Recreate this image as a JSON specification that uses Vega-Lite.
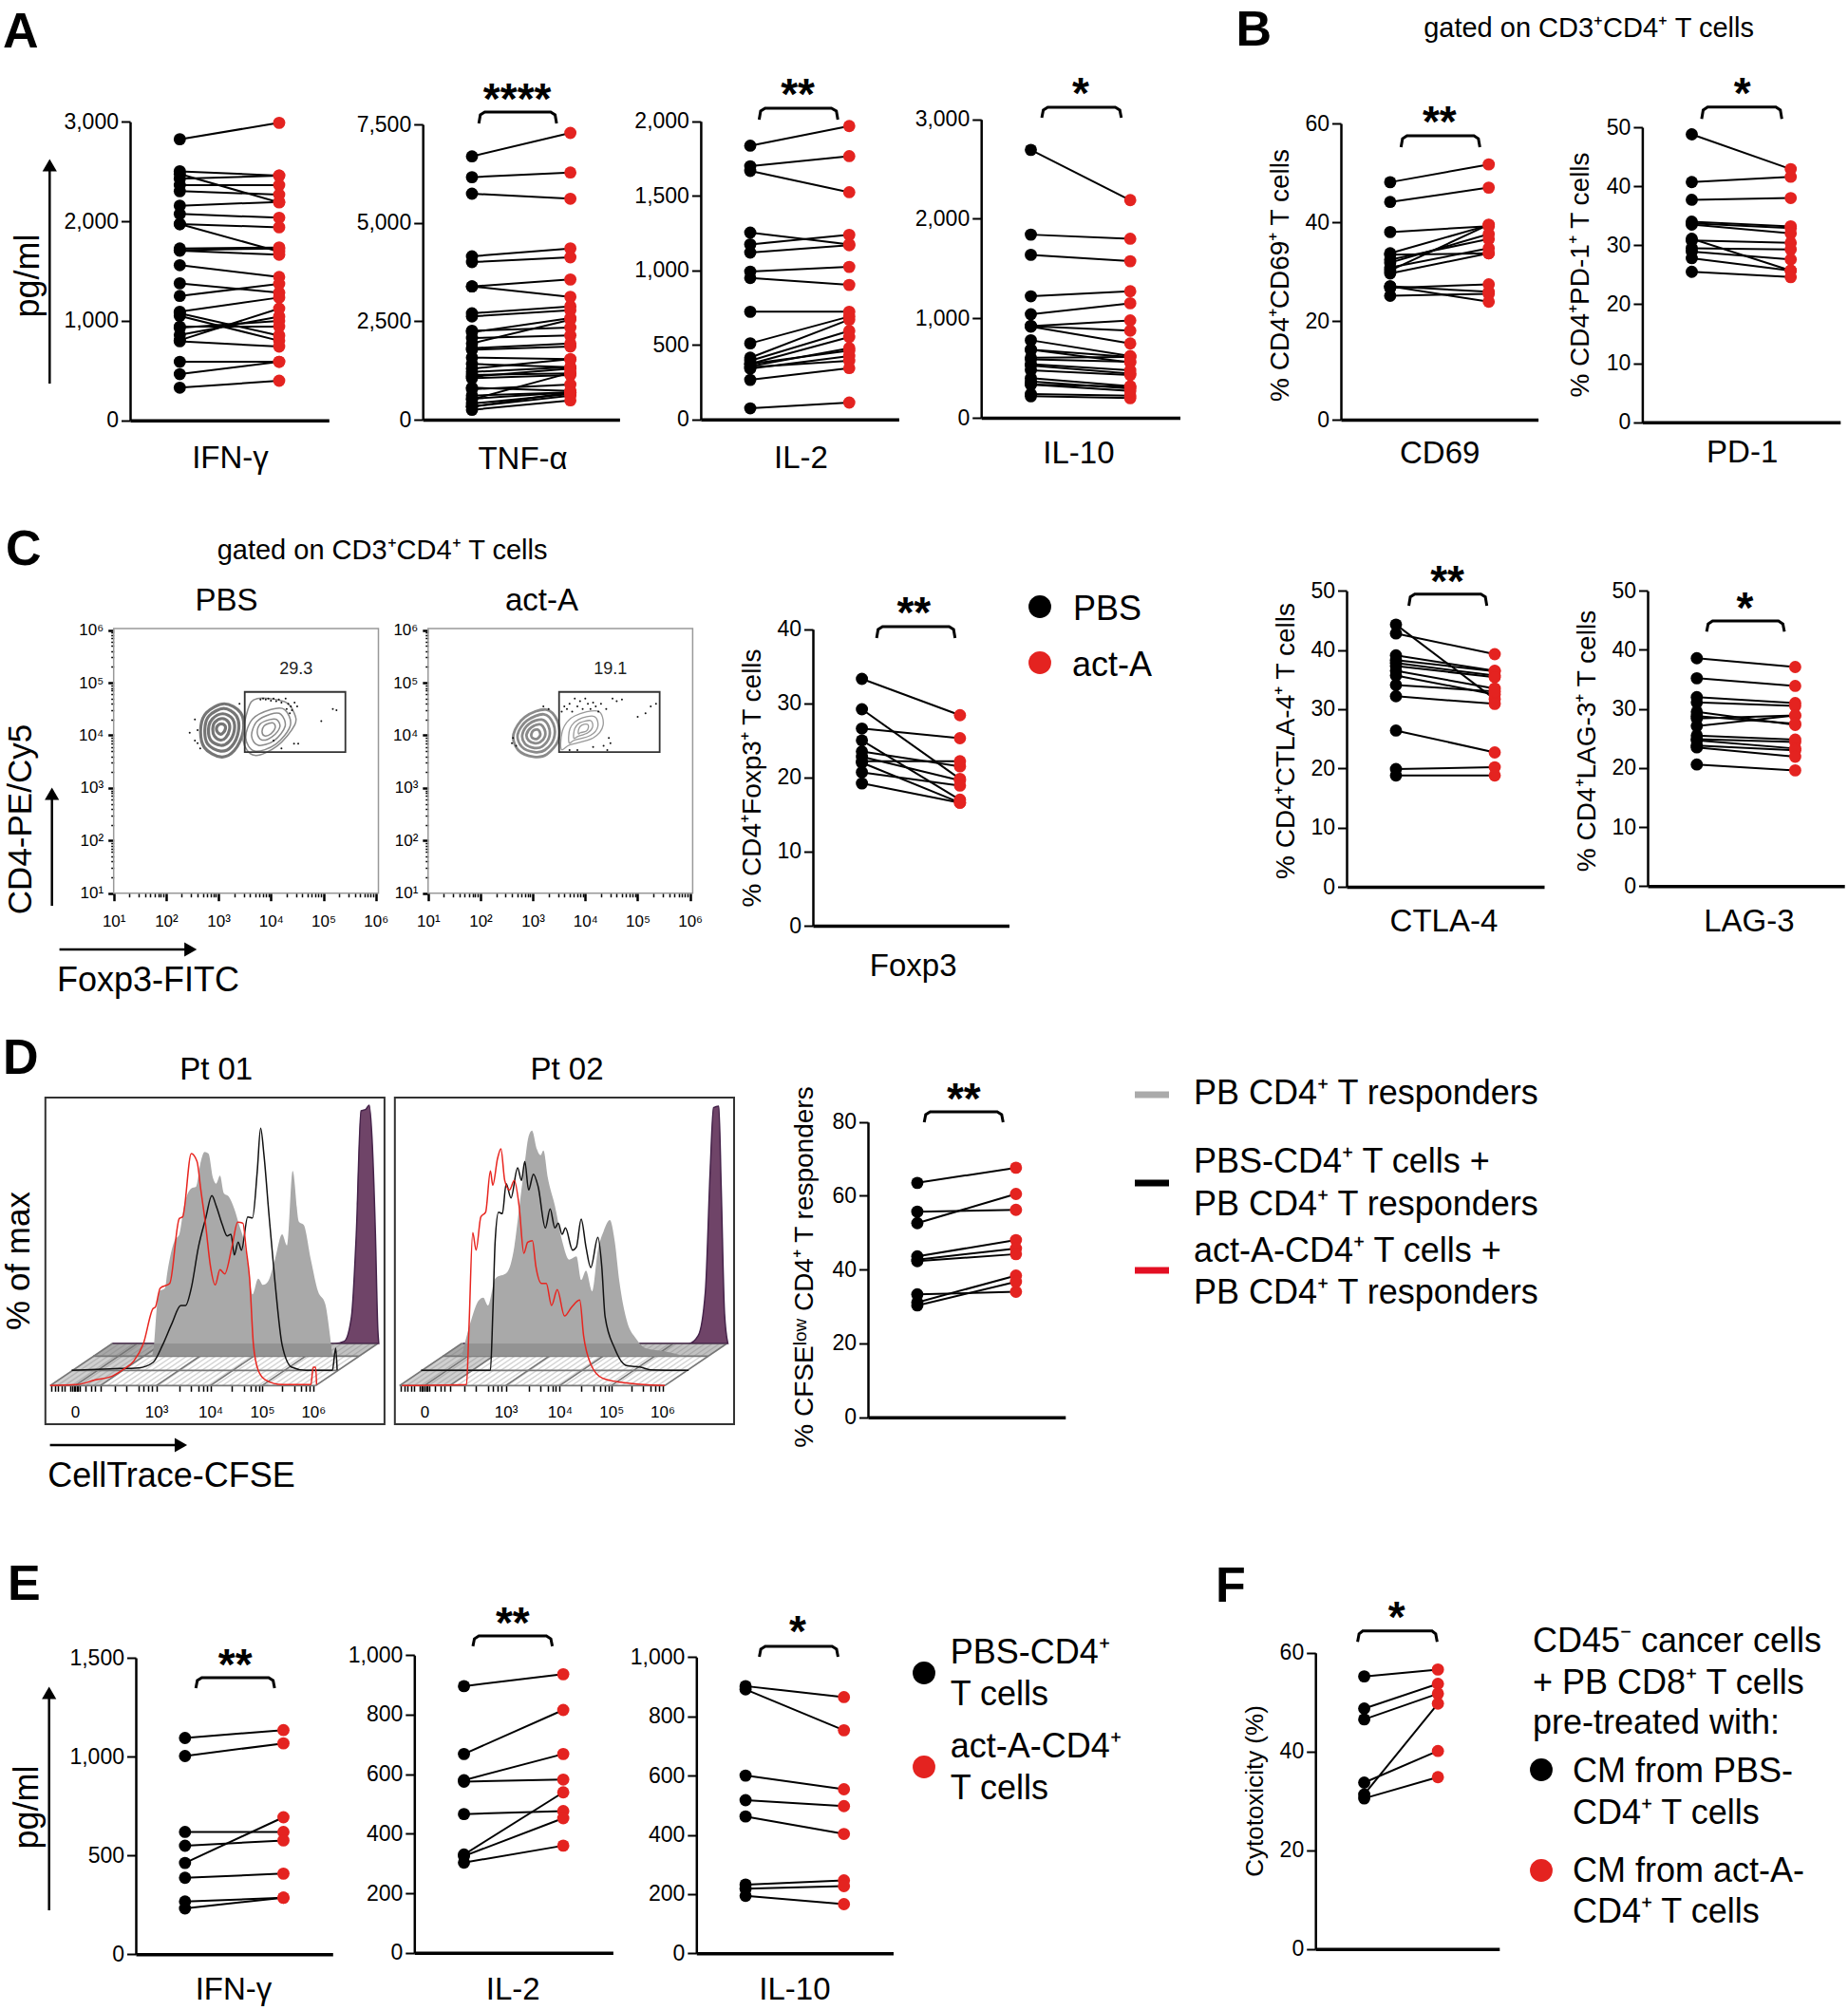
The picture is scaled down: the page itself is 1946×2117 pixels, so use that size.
{"$schema":"https://vega.github.io/schema/vega-lite/v6.json","width":1946,"height":2117,"padding":0,"autosize":"none","background":"white","config":{"view":{"stroke":null},"font":"Liberation Sans","axis":{"grid":false,"labelFont":"Liberation Sans","titleFont":"Liberation Sans","titleFontWeight":"normal","labelColor":"#000","titleColor":"#000","domainColor":"#000","tickColor":"#000","titleBaseline":"alphabetic","labelFontSize":23,"labelPadding":3,"tickSize":9.5,"tickWidth":2,"domainWidth":2.5,"labelOverlap":false,"labelFlush":false,"labelBound":false}},
"datasets":{
"A1":[{"PBS":2825,"actA":2990},{"PBS":2503,"actA":2459},{"PBS":2427,"actA":2459},{"PBS":2475,"actA":2190},{"PBS":2364,"actA":2364},{"PBS":2303,"actA":2268},{"PBS":2157,"actA":2195},{"PBS":2074,"actA":2036},{"PBS":1972,"actA":1940},{"PBS":1972,"actA":1696},{"PBS":1727,"actA":1737},{"PBS":1711,"actA":1727},{"PBS":1705,"actA":1664},{"PBS":1559,"actA":1441},{"PBS":1377,"actA":1282},{"PBS":1250,"actA":1371},{"PBS":1091,"actA":1234},{"PBS":1075,"actA":852},{"PBS":1050,"actA":800},{"PBS":941,"actA":941},{"PBS":930,"actA":1000},{"PBS":859,"actA":1043},{"PBS":805,"actA":1123},{"PBS":795,"actA":741},{"PBS":588,"actA":588},{"PBS":464,"actA":588},{"PBS":328,"actA":398}],
"A2":[{"PBS":6688,"actA":7283},{"PBS":6158,"actA":6278},{"PBS":5740,"actA":5611},{"PBS":4148,"actA":4349},{"PBS":4003,"actA":4124},{"PBS":3384,"actA":3561},{"PBS":3384,"actA":3119},{"PBS":2701,"actA":2878},{"PBS":2621,"actA":2781},{"PBS":2219,"actA":2580},{"PBS":1937,"actA":2540},{"PBS":2259,"actA":2339},{"PBS":2074,"actA":2138},{"PBS":1817,"actA":1937},{"PBS":1777,"actA":1857},{"PBS":1576,"actA":1535},{"PBS":1415,"actA":1334},{"PBS":1294,"actA":1535},{"PBS":1214,"actA":1334},{"PBS":1134,"actA":1174},{"PBS":1093,"actA":1294},{"PBS":1053,"actA":1134},{"PBS":812,"actA":732},{"PBS":772,"actA":892},{"PBS":611,"actA":691},{"PBS":531,"actA":691},{"PBS":514,"actA":1190},{"PBS":410,"actA":651},{"PBS":330,"actA":611},{"PBS":249,"actA":490},{"PBS":330,"actA":691}],
"A3":[{"PBS":1836,"actA":1968},{"PBS":1698,"actA":1766},{"PBS":1667,"actA":1524},{"PBS":1253,"actA":1174},{"PBS":1174,"actA":1238},{"PBS":1119,"actA":1168},{"PBS":991,"actA":1023},{"PBS":949,"actA":902},{"PBS":722,"actA":722},{"PBS":510,"actA":690},{"PBS":414,"actA":669},{"PBS":393,"actA":594},{"PBS":372,"actA":552},{"PBS":357,"actA":478},{"PBS":372,"actA":461},{"PBS":340,"actA":425},{"PBS":350,"actA":393},{"PBS":265,"actA":344},{"PBS":74,"actA":113}],
"A4":[{"PBS":2693,"actA":2188},{"PBS":1841,"actA":1800},{"PBS":1638,"actA":1574},{"PBS":1221,"actA":1272},{"PBS":1040,"actA":1151},{"PBS":922,"actA":979},{"PBS":922,"actA":875},{"PBS":916,"actA":747},{"PBS":779,"actA":620},{"PBS":684,"actA":610},{"PBS":604,"actA":610},{"PBS":588,"actA":563},{"PBS":525,"actA":445},{"PBS":477,"actA":429},{"PBS":398,"actA":318},{"PBS":366,"actA":293},{"PBS":334,"actA":312},{"PBS":238,"actA":223},{"PBS":216,"actA":197},{"PBS":334,"actA":270},{"PBS":684,"actA":556},{"PBS":540,"actA":477}],
"B1":[{"PBS":48.1,"actA":51.7},{"PBS":44.1,"actA":47},{"PBS":38,"actA":39.2},{"PBS":33.4,"actA":33.7},{"PBS":33.7,"actA":39.4},{"PBS":32.4,"actA":36.6},{"PBS":31.8,"actA":37.6},{"PBS":30.8,"actA":34.7},{"PBS":30.2,"actA":39.5},{"PBS":29.6,"actA":33.7},{"PBS":27,"actA":25.9},{"PBS":26.7,"actA":27.4},{"PBS":25.1,"actA":25.5},{"PBS":27,"actA":23.9}],
"B2":[{"PBS":48.8,"actA":42.9},{"PBS":40.7,"actA":41.6},{"PBS":37.7,"actA":38},{"PBS":34,"actA":33.2},{"PBS":33.7,"actA":32.9},{"PBS":33.5,"actA":32},{"PBS":30.8,"actA":30.4},{"PBS":31.1,"actA":25.7},{"PBS":29.5,"actA":29.3},{"PBS":28.9,"actA":27.6},{"PBS":27.8,"actA":25.7},{"PBS":25.5,"actA":24.6}],
"C1":[{"PBS":33.3,"actA":28.4},{"PBS":29.2,"actA":19.8},{"PBS":26.6,"actA":25.3},{"PBS":25,"actA":17},{"PBS":23.5,"actA":21.5},{"PBS":22.2,"actA":22.2},{"PBS":22.8,"actA":19.6},{"PBS":22,"actA":16.6},{"PBS":20.7,"actA":18.9},{"PBS":19.2,"actA":16.6}],
"B3":[{"PBS":44.3,"actA":31.7},{"PBS":42.8,"actA":39.3},{"PBS":39.1,"actA":36.5},{"PBS":38.3,"actA":36.4},{"PBS":37.8,"actA":35.7},{"PBS":37.3,"actA":35.4},{"PBS":36.5,"actA":33.5},{"PBS":35.7,"actA":32.5},{"PBS":34.1,"actA":33},{"PBS":32.2,"actA":30.9},{"PBS":26.4,"actA":22.7},{"PBS":19.9,"actA":20.2},{"PBS":18.8,"actA":18.8}],
"B4":[{"PBS":38.6,"actA":37.1},{"PBS":35.2,"actA":33.9},{"PBS":32,"actA":31},{"PBS":31.1,"actA":30.5},{"PBS":29.5,"actA":27.3},{"PBS":28.4,"actA":28.9},{"PBS":27.1,"actA":28.9},{"PBS":28.8,"actA":27.5},{"PBS":25.5,"actA":24.8},{"PBS":24.9,"actA":24.4},{"PBS":24.7,"actA":23.3},{"PBS":23.8,"actA":23},{"PBS":23.5,"actA":21.9},{"PBS":20.6,"actA":19.6}],
"D1":[{"PBS":63.5,"actA":67.6},{"PBS":52.6,"actA":60.5},{"PBS":55.7,"actA":56.2},{"PBS":43.6,"actA":48},{"PBS":42.7,"actA":45.7},{"PBS":42.3,"actA":44.2},{"PBS":33.3,"actA":34},{"PBS":31.1,"actA":38.4},{"PBS":30.3,"actA":36.7}],
"E1":[{"PBS":1094,"actA":1134},{"PBS":1003,"actA":1067},{"PBS":619,"actA":619},{"PBS":549,"actA":576},{"PBS":462,"actA":693},{"PBS":387,"actA":408},{"PBS":267,"actA":286},{"PBS":232,"actA":286}],
"E2":[{"PBS":896,"actA":936},{"PBS":668,"actA":816},{"PBS":580,"actA":668},{"PBS":575,"actA":582},{"PBS":466,"actA":476},{"PBS":330,"actA":539},{"PBS":325,"actA":452},{"PBS":303,"actA":360}],
"E3":[{"PBS":902,"actA":865},{"PBS":891,"actA":753},{"PBS":600,"actA":554},{"PBS":517,"actA":497},{"PBS":462,"actA":403},{"PBS":232,"actA":246},{"PBS":218,"actA":227},{"PBS":194,"actA":166}],
"F1":[{"PBS":55.2,"actA":56.6},{"PBS":48.7,"actA":53.7},{"PBS":46.5,"actA":51.7},{"PBS":33.7,"actA":40.1},{"PBS":31.3,"actA":49.7},{"PBS":30.5,"actA":34.8}],
"hatch":[{"f":105,"b":235},{"f":120,"b":250},{"f":135,"b":265},{"f":150,"b":280},{"f":165,"b":295},{"f":180,"b":310},{"f":195,"b":325},{"f":210,"b":340},{"f":225,"b":355},{"f":240,"b":370},{"f":255,"b":385},{"f":270,"b":400},{"f":285,"b":415},{"f":300,"b":430},{"f":315,"b":445},{"f":330,"b":460},{"f":345,"b":475},{"f":360,"b":490},{"f":375,"b":505},{"f":390,"b":520},{"f":405,"b":535},{"f":420,"b":550},{"f":435,"b":565},{"f":450,"b":580},{"f":465,"b":595},{"f":480,"b":610},{"f":495,"b":625},{"f":510,"b":640},{"f":525,"b":655},{"f":540,"b":670},{"f":555,"b":685},{"f":570,"b":700},{"f":585,"b":715},{"f":600,"b":730},{"f":615,"b":745},{"f":630,"b":760},{"f":645,"b":775},{"f":660,"b":790}],
"diag":[{"f":105,"b":235},{"f":157,"b":287},{"f":210,"b":340},{"f":327,"b":457},{"f":440,"b":570},{"f":548,"b":678},{"f":660,"b":790}],
"levels":[{"l":105,"r":660,"v":122},{"l":150,"r":705,"v":170},{"l":195,"r":750,"v":215},{"l":235,"r":790,"v":255}],
"shade":[{"x":105,"y":122,"y0":122},{"x":210,"y":229,"y0":122},{"x":235,"y":255,"y0":147},{"x":340,"y":255,"y0":255}],
"band":[{"x":195,"y":215,"y0":215},{"x":235,"y":255,"y0":215},{"x":750,"y":255,"y0":215},{"x":790,"y":255,"y0":255}]
},
"resolve":{"scale":{"x":"independent","y":"independent","color":"independent"},"axis":{"x":"independent","y":"independent"}},"layer":[
{"data":{"name":"A1"},"mark":{"type":"rule","color":"#000","strokeWidth":2},"encoding":{"x":{"datum":1,"type":"quantitative","scale":{"domain":[0.5,2.5],"range":[137,346.3]},"axis":{"orient":"bottom","offset":-1674.3,"ticks":false,"labels":false,"domainWidth":3.5,"title":"IFN-γ","titleFontSize":33,"titleX":242,"titleY":50}},"x2":{"datum":2},"y":{"field":"PBS","type":"quantitative","scale":{"domain":[0,3000],"range":[442.7,128.3]},"axis":{"orient":"left","offset":-137,"values":[0,1000,2000,3000],"format":",.0f","title":"pg/ml","titleFontSize":36,"titleX":-108,"titleY":290,"titleBaseline":"middle"}},"y2":{"field":"actA"}}},
{"data":{"name":"A1"},"layer":[
{"mark":{"type":"circle","size":165,"color":"#000","opacity":1},"encoding":{"x":{"datum":1,"type":"quantitative","scale":{"domain":[0.5,2.5],"range":[137,346.3]},"axis":null},"y":{"field":"PBS","type":"quantitative","scale":{"domain":[0,3000],"range":[442.7,128.3]},"axis":null}}},
{"mark":{"type":"circle","size":165,"color":"#e42320","opacity":1},"encoding":{"x":{"datum":2,"type":"quantitative","scale":{"domain":[0.5,2.5],"range":[137,346.3]},"axis":null},"y":{"field":"actA","type":"quantitative","scale":{"domain":[0,3000],"range":[442.7,128.3]},"axis":null}}}
]},
{"data":{"name":"A2"},"mark":{"type":"rule","color":"#000","strokeWidth":2},"encoding":{"x":{"datum":1,"type":"quantitative","scale":{"domain":[0.5,2.5],"range":[445.2,652.4]},"axis":{"orient":"bottom","offset":-1675,"ticks":false,"labels":false,"domainWidth":3.5,"title":"TNF-α","titleFontSize":33,"titleX":550,"titleY":51}},"x2":{"datum":2},"y":{"field":"PBS","type":"quantitative","scale":{"domain":[0,7500],"range":[442,131]},"axis":{"orient":"left","offset":-445.2,"values":[0,2500,5000,7500],"format":",.0f","title":null}},"y2":{"field":"actA"}}},
{"data":{"name":"A2"},"layer":[
{"mark":{"type":"circle","size":165,"color":"#000","opacity":1},"encoding":{"x":{"datum":1,"type":"quantitative","scale":{"domain":[0.5,2.5],"range":[445.2,652.4]},"axis":null},"y":{"field":"PBS","type":"quantitative","scale":{"domain":[0,7500],"range":[442,131]},"axis":null}}},
{"mark":{"type":"circle","size":165,"color":"#e42320","opacity":1},"encoding":{"x":{"datum":2,"type":"quantitative","scale":{"domain":[0.5,2.5],"range":[445.2,652.4]},"axis":null},"y":{"field":"actA","type":"quantitative","scale":{"domain":[0,7500],"range":[442,131]},"axis":null}}},
{"data":{"values":[{"x":1.07,"v":7524},{"x":1.085,"v":7741},{"x":1.13,"v":7814},{"x":1.8,"v":7814},{"x":1.845,"v":7741},{"x":1.86,"v":7524}]},"mark":{"type":"line","color":"#000","strokeWidth":3},"encoding":{"order":{"value":null},"x":{"field":"x","type":"quantitative","scale":{"domain":[0.5,2.5],"range":[445.2,652.4]},"axis":null},"y":{"field":"v","type":"quantitative","scale":{"domain":[0,7500],"range":[442,131]},"axis":null}}},
{"data":{"values":[{"x":1.46,"v":7777,"s":"****"}]},"mark":{"type":"text","fontSize":46,"fontWeight":"bold","font":"Liberation Sans","baseline":"alphabetic"},"encoding":{"text":{"field":"s"},"x":{"field":"x","type":"quantitative","scale":{"domain":[0.5,2.5],"range":[445.2,652.4]},"axis":null},"y":{"field":"v","type":"quantitative","scale":{"domain":[0,7500],"range":[442,131]},"axis":null}}}
]},
{"data":{"name":"A3"},"mark":{"type":"rule","color":"#000","strokeWidth":2},"encoding":{"x":{"datum":1,"type":"quantitative","scale":{"domain":[0.5,2.5],"range":[737.9,946.4]},"axis":{"orient":"bottom","offset":-1675.3,"ticks":false,"labels":false,"domainWidth":3.5,"title":"IL-2","titleFontSize":33,"titleX":843,"titleY":51}},"x2":{"datum":2},"y":{"field":"PBS","type":"quantitative","scale":{"domain":[0,2000],"range":[441.7,127.7]},"axis":{"orient":"left","offset":-737.9,"values":[0,500,1000,1500,2000],"format":",.0f","title":null}},"y2":{"field":"actA"}}},
{"data":{"name":"A3"},"layer":[
{"mark":{"type":"circle","size":165,"color":"#000","opacity":1},"encoding":{"x":{"datum":1,"type":"quantitative","scale":{"domain":[0.5,2.5],"range":[737.9,946.4]},"axis":null},"y":{"field":"PBS","type":"quantitative","scale":{"domain":[0,2000],"range":[441.7,127.7]},"axis":null}}},
{"mark":{"type":"circle","size":165,"color":"#e42320","opacity":1},"encoding":{"x":{"datum":2,"type":"quantitative","scale":{"domain":[0.5,2.5],"range":[737.9,946.4]},"axis":null},"y":{"field":"actA","type":"quantitative","scale":{"domain":[0,2000],"range":[441.7,127.7]},"axis":null}}},
{"data":{"values":[{"x":1.09,"v":2011},{"x":1.105,"v":2068},{"x":1.15,"v":2087},{"x":1.82,"v":2087},{"x":1.87,"v":2068},{"x":1.885,"v":2011}]},"mark":{"type":"line","color":"#000","strokeWidth":3},"encoding":{"order":{"value":null},"x":{"field":"x","type":"quantitative","scale":{"domain":[0.5,2.5],"range":[737.9,946.4]},"axis":null},"y":{"field":"v","type":"quantitative","scale":{"domain":[0,2000],"range":[441.7,127.7]},"axis":null}}},
{"data":{"values":[{"x":1.48,"v":2078,"s":"**"}]},"mark":{"type":"text","fontSize":46,"fontWeight":"bold","font":"Liberation Sans","baseline":"alphabetic"},"encoding":{"text":{"field":"s"},"x":{"field":"x","type":"quantitative","scale":{"domain":[0.5,2.5],"range":[737.9,946.4]},"axis":null},"y":{"field":"v","type":"quantitative","scale":{"domain":[0,2000],"range":[441.7,127.7]},"axis":null}}}
]},
{"data":{"name":"A4"},"mark":{"type":"rule","color":"#000","strokeWidth":2},"encoding":{"x":{"datum":1,"type":"quantitative","scale":{"domain":[0.5,2.5],"range":[1033.2,1242.5]},"axis":{"orient":"bottom","offset":-1677,"ticks":false,"labels":false,"domainWidth":3.5,"title":"IL-10","titleFontSize":33,"titleX":1135.4,"titleY":47}},"x2":{"datum":2},"y":{"field":"PBS","type":"quantitative","scale":{"domain":[0,3000],"range":[440,125.7]},"axis":{"orient":"left","offset":-1033.2,"values":[0,1000,2000,3000],"format":",.0f","title":null}},"y2":{"field":"actA"}}},
{"data":{"name":"A4"},"layer":[
{"mark":{"type":"circle","size":165,"color":"#000","opacity":1},"encoding":{"x":{"datum":1,"type":"quantitative","scale":{"domain":[0.5,2.5],"range":[1033.2,1242.5]},"axis":null},"y":{"field":"PBS","type":"quantitative","scale":{"domain":[0,3000],"range":[440,125.7]},"axis":null}}},
{"mark":{"type":"circle","size":165,"color":"#e42320","opacity":1},"encoding":{"x":{"datum":2,"type":"quantitative","scale":{"domain":[0.5,2.5],"range":[1033.2,1242.5]},"axis":null},"y":{"field":"actA","type":"quantitative","scale":{"domain":[0,3000],"range":[440,125.7]},"axis":null}}},
{"data":{"values":[{"x":1.11,"v":3016},{"x":1.125,"v":3093},{"x":1.17,"v":3121},{"x":1.85,"v":3121},{"x":1.895,"v":3093},{"x":1.91,"v":3016}]},"mark":{"type":"line","color":"#000","strokeWidth":3},"encoding":{"order":{"value":null},"x":{"field":"x","type":"quantitative","scale":{"domain":[0.5,2.5],"range":[1033.2,1242.5]},"axis":null},"y":{"field":"v","type":"quantitative","scale":{"domain":[0,3000],"range":[440,125.7]},"axis":null}}},
{"data":{"values":[{"x":1.5,"v":3116,"s":"*"}]},"mark":{"type":"text","fontSize":46,"fontWeight":"bold","font":"Liberation Sans","baseline":"alphabetic"},"encoding":{"text":{"field":"s"},"x":{"field":"x","type":"quantitative","scale":{"domain":[0.5,2.5],"range":[1033.2,1242.5]},"axis":null},"y":{"field":"v","type":"quantitative","scale":{"domain":[0,3000],"range":[440,125.7]},"axis":null}}}
]},
{"data":{"name":"B1"},"mark":{"type":"rule","color":"#000","strokeWidth":2},"encoding":{"x":{"datum":1,"type":"quantitative","scale":{"domain":[0.5,2.5],"range":[1412,1619.6]},"axis":{"orient":"bottom","offset":-1675,"ticks":false,"labels":false,"domainWidth":3.5,"title":"CD69","titleFontSize":33,"titleX":1515.7,"titleY":45}},"x2":{"datum":2},"y":{"field":"PBS","type":"quantitative","scale":{"domain":[0,60],"range":[442,130]},"axis":{"orient":"left","offset":-1412,"values":[0,20,40,60],"title":"% CD4⁺CD69⁺ T cells","titleFontSize":28,"titleX":-63.6,"titleY":289.5,"titleBaseline":"middle"}},"y2":{"field":"actA"}}},
{"data":{"name":"B1"},"layer":[
{"mark":{"type":"circle","size":165,"color":"#000","opacity":1},"encoding":{"x":{"datum":1,"type":"quantitative","scale":{"domain":[0.5,2.5],"range":[1412,1619.6]},"axis":null},"y":{"field":"PBS","type":"quantitative","scale":{"domain":[0,60],"range":[442,130]},"axis":null}}},
{"mark":{"type":"circle","size":165,"color":"#e42320","opacity":1},"encoding":{"x":{"datum":2,"type":"quantitative","scale":{"domain":[0.5,2.5],"range":[1412,1619.6]},"axis":null},"y":{"field":"actA","type":"quantitative","scale":{"domain":[0,60],"range":[442,130]},"axis":null}}},
{"data":{"values":[{"x":1.11,"v":55.2},{"x":1.125,"v":56.9},{"x":1.17,"v":57.5},{"x":1.85,"v":57.5},{"x":1.895,"v":56.9},{"x":1.91,"v":55.2}]},"mark":{"type":"line","color":"#000","strokeWidth":3},"encoding":{"order":{"value":null},"x":{"field":"x","type":"quantitative","scale":{"domain":[0.5,2.5],"range":[1412,1619.6]},"axis":null},"y":{"field":"v","type":"quantitative","scale":{"domain":[0,60],"range":[442,130]},"axis":null}}},
{"data":{"values":[{"x":1.5,"v":57.3,"s":"**"}]},"mark":{"type":"text","fontSize":46,"fontWeight":"bold","font":"Liberation Sans","baseline":"alphabetic"},"encoding":{"text":{"field":"s"},"x":{"field":"x","type":"quantitative","scale":{"domain":[0.5,2.5],"range":[1412,1619.6]},"axis":null},"y":{"field":"v","type":"quantitative","scale":{"domain":[0,60],"range":[442,130]},"axis":null}}}
]},
{"data":{"name":"B2"},"mark":{"type":"rule","color":"#000","strokeWidth":2},"encoding":{"x":{"datum":1,"type":"quantitative","scale":{"domain":[0.5,2.5],"range":[1729.4,1937.8]},"axis":{"orient":"bottom","offset":-1672.3,"ticks":false,"labels":false,"domainWidth":3.5,"title":"PD-1","titleFontSize":33,"titleX":1834.2,"titleY":42}},"x2":{"datum":2},"y":{"field":"PBS","type":"quantitative","scale":{"domain":[0,50],"range":[444.7,134]},"axis":{"orient":"left","offset":-1729.4,"values":[0,10,20,30,40,50],"title":"% CD4⁺PD-1⁺ T cells","titleFontSize":28,"titleX":-65.4,"titleY":289,"titleBaseline":"middle"}},"y2":{"field":"actA"}}},
{"data":{"name":"B2"},"layer":[
{"mark":{"type":"circle","size":165,"color":"#000","opacity":1},"encoding":{"x":{"datum":1,"type":"quantitative","scale":{"domain":[0.5,2.5],"range":[1729.4,1937.8]},"axis":null},"y":{"field":"PBS","type":"quantitative","scale":{"domain":[0,50],"range":[444.7,134]},"axis":null}}},
{"mark":{"type":"circle","size":165,"color":"#e42320","opacity":1},"encoding":{"x":{"datum":2,"type":"quantitative","scale":{"domain":[0.5,2.5],"range":[1729.4,1937.8]},"axis":null},"y":{"field":"actA","type":"quantitative","scale":{"domain":[0,50],"range":[444.7,134]},"axis":null}}},
{"data":{"values":[{"x":1.1,"v":51.4},{"x":1.115,"v":52.9},{"x":1.16,"v":53.4},{"x":1.85,"v":53.4},{"x":1.895,"v":52.9},{"x":1.91,"v":51.4}]},"mark":{"type":"line","color":"#000","strokeWidth":3},"encoding":{"order":{"value":null},"x":{"field":"x","type":"quantitative","scale":{"domain":[0.5,2.5],"range":[1729.4,1937.8]},"axis":null},"y":{"field":"v","type":"quantitative","scale":{"domain":[0,50],"range":[444.7,134]},"axis":null}}},
{"data":{"values":[{"x":1.51,"v":53.2,"s":"*"}]},"mark":{"type":"text","fontSize":46,"fontWeight":"bold","font":"Liberation Sans","baseline":"alphabetic"},"encoding":{"text":{"field":"s"},"x":{"field":"x","type":"quantitative","scale":{"domain":[0.5,2.5],"range":[1729.4,1937.8]},"axis":null},"y":{"field":"v","type":"quantitative","scale":{"domain":[0,50],"range":[444.7,134]},"axis":null}}}
]},
{"data":{"name":"C1"},"mark":{"type":"rule","color":"#000","strokeWidth":2},"encoding":{"x":{"datum":1,"type":"quantitative","scale":{"domain":[0.5,2.5],"range":[856,1062.5]},"axis":{"orient":"bottom","offset":-1142,"ticks":false,"labels":false,"domainWidth":3.5,"title":"Foxp3","titleFontSize":33,"titleX":961.2,"titleY":52}},"x2":{"datum":2},"y":{"field":"PBS","type":"quantitative","scale":{"domain":[0,40],"range":[975,662.7]},"axis":{"orient":"left","offset":-856,"values":[0,10,20,30,40],"title":"% CD4⁺Foxp3⁺ T cells","titleFontSize":28,"titleX":-64,"titleY":819,"titleBaseline":"middle"}},"y2":{"field":"actA"}}},
{"data":{"name":"C1"},"layer":[
{"mark":{"type":"circle","size":165,"color":"#000","opacity":1},"encoding":{"x":{"datum":1,"type":"quantitative","scale":{"domain":[0.5,2.5],"range":[856,1062.5]},"axis":null},"y":{"field":"PBS","type":"quantitative","scale":{"domain":[0,40],"range":[975,662.7]},"axis":null}}},
{"mark":{"type":"circle","size":165,"color":"#e42320","opacity":1},"encoding":{"x":{"datum":2,"type":"quantitative","scale":{"domain":[0.5,2.5],"range":[856,1062.5]},"axis":null},"y":{"field":"actA","type":"quantitative","scale":{"domain":[0,40],"range":[975,662.7]},"axis":null}}},
{"data":{"values":[{"x":1.15,"v":38.8},{"x":1.165,"v":39.97},{"x":1.21,"v":40.35},{"x":1.89,"v":40.35},{"x":1.935,"v":39.97},{"x":1.95,"v":38.8}]},"mark":{"type":"line","color":"#000","strokeWidth":3},"encoding":{"order":{"value":null},"x":{"field":"x","type":"quantitative","scale":{"domain":[0.5,2.5],"range":[856,1062.5]},"axis":null},"y":{"field":"v","type":"quantitative","scale":{"domain":[0,40],"range":[975,662.7]},"axis":null}}},
{"data":{"values":[{"x":1.53,"v":40.23,"s":"**"}]},"mark":{"type":"text","fontSize":46,"fontWeight":"bold","font":"Liberation Sans","baseline":"alphabetic"},"encoding":{"text":{"field":"s"},"x":{"field":"x","type":"quantitative","scale":{"domain":[0.5,2.5],"range":[856,1062.5]},"axis":null},"y":{"field":"v","type":"quantitative","scale":{"domain":[0,40],"range":[975,662.7]},"axis":null}}}
]},
{"data":{"name":"B3"},"mark":{"type":"rule","color":"#000","strokeWidth":2},"encoding":{"x":{"datum":1,"type":"quantitative","scale":{"domain":[0.5,2.5],"range":[1418,1626]},"axis":{"orient":"bottom","offset":-1183,"ticks":false,"labels":false,"domainWidth":3.5,"title":"CTLA-4","titleFontSize":33,"titleX":1519.9,"titleY":46}},"x2":{"datum":2},"y":{"field":"PBS","type":"quantitative","scale":{"domain":[0,50],"range":[934,622.3]},"axis":{"orient":"left","offset":-1418,"values":[0,10,20,30,40,50],"title":"% CD4⁺CTLA-4⁺ T cells","titleFontSize":28,"titleX":-63.9,"titleY":780,"titleBaseline":"middle"}},"y2":{"field":"actA"}}},
{"data":{"name":"B3"},"layer":[
{"mark":{"type":"circle","size":165,"color":"#000","opacity":1},"encoding":{"x":{"datum":1,"type":"quantitative","scale":{"domain":[0.5,2.5],"range":[1418,1626]},"axis":null},"y":{"field":"PBS","type":"quantitative","scale":{"domain":[0,50],"range":[934,622.3]},"axis":null}}},
{"mark":{"type":"circle","size":165,"color":"#e42320","opacity":1},"encoding":{"x":{"datum":2,"type":"quantitative","scale":{"domain":[0.5,2.5],"range":[1418,1626]},"axis":null},"y":{"field":"actA","type":"quantitative","scale":{"domain":[0,50],"range":[934,622.3]},"axis":null}}},
{"data":{"values":[{"x":1.13,"v":47.5},{"x":1.145,"v":48.97},{"x":1.19,"v":49.45},{"x":1.86,"v":49.45},{"x":1.905,"v":48.97},{"x":1.92,"v":47.5}]},"mark":{"type":"line","color":"#000","strokeWidth":3},"encoding":{"order":{"value":null},"x":{"field":"x","type":"quantitative","scale":{"domain":[0.5,2.5],"range":[1418,1626]},"axis":null},"y":{"field":"v","type":"quantitative","scale":{"domain":[0,50],"range":[934,622.3]},"axis":null}}},
{"data":{"values":[{"x":1.52,"v":49.1,"s":"**"}]},"mark":{"type":"text","fontSize":46,"fontWeight":"bold","font":"Liberation Sans","baseline":"alphabetic"},"encoding":{"text":{"field":"s"},"x":{"field":"x","type":"quantitative","scale":{"domain":[0.5,2.5],"range":[1418,1626]},"axis":null},"y":{"field":"v","type":"quantitative","scale":{"domain":[0,50],"range":[934,622.3]},"axis":null}}}
]},
{"data":{"name":"B4"},"mark":{"type":"rule","color":"#000","strokeWidth":2},"encoding":{"x":{"datum":1,"type":"quantitative","scale":{"domain":[0.5,2.5],"range":[1735,1942.2]},"axis":{"orient":"bottom","offset":-1183.7,"ticks":false,"labels":false,"domainWidth":3.5,"title":"LAG-3","titleFontSize":33,"titleX":1841.4,"titleY":47}},"x2":{"datum":2},"y":{"field":"PBS","type":"quantitative","scale":{"domain":[0,50],"range":[933.3,622.3]},"axis":{"orient":"left","offset":-1735,"values":[0,10,20,30,40,50],"title":"% CD4⁺LAG-3⁺ T cells","titleFontSize":28,"titleX":-63.4,"titleY":780,"titleBaseline":"middle"}},"y2":{"field":"actA"}}},
{"data":{"name":"B4"},"layer":[
{"mark":{"type":"circle","size":165,"color":"#000","opacity":1},"encoding":{"x":{"datum":1,"type":"quantitative","scale":{"domain":[0.5,2.5],"range":[1735,1942.2]},"axis":null},"y":{"field":"PBS","type":"quantitative","scale":{"domain":[0,50],"range":[933.3,622.3]},"axis":null}}},
{"mark":{"type":"circle","size":165,"color":"#e42320","opacity":1},"encoding":{"x":{"datum":2,"type":"quantitative","scale":{"domain":[0.5,2.5],"range":[1735,1942.2]},"axis":null},"y":{"field":"actA","type":"quantitative","scale":{"domain":[0,50],"range":[933.3,622.3]},"axis":null}}},
{"data":{"values":[{"x":1.1,"v":43.1},{"x":1.115,"v":44.4},{"x":1.16,"v":44.9},{"x":1.83,"v":44.9},{"x":1.875,"v":44.4},{"x":1.89,"v":43.1}]},"mark":{"type":"line","color":"#000","strokeWidth":3},"encoding":{"order":{"value":null},"x":{"field":"x","type":"quantitative","scale":{"domain":[0.5,2.5],"range":[1735,1942.2]},"axis":null},"y":{"field":"v","type":"quantitative","scale":{"domain":[0,50],"range":[933.3,622.3]},"axis":null}}},
{"data":{"values":[{"x":1.49,"v":44.6,"s":"*"}]},"mark":{"type":"text","fontSize":46,"fontWeight":"bold","font":"Liberation Sans","baseline":"alphabetic"},"encoding":{"text":{"field":"s"},"x":{"field":"x","type":"quantitative","scale":{"domain":[0.5,2.5],"range":[1735,1942.2]},"axis":null},"y":{"field":"v","type":"quantitative","scale":{"domain":[0,50],"range":[933.3,622.3]},"axis":null}}}
]},
{"data":{"name":"D1"},"mark":{"type":"rule","color":"#000","strokeWidth":2},"encoding":{"x":{"datum":1,"type":"quantitative","scale":{"domain":[0.5,2.5],"range":[914,1121.8]},"axis":{"orient":"bottom","offset":-624.3,"ticks":false,"labels":false,"domainWidth":3.5,"title":null}},"x2":{"datum":2},"y":{"field":"PBS","type":"quantitative","scale":{"domain":[0,80],"range":[1492.7,1181.7]},"axis":{"orient":"left","offset":-914,"values":[0,20,40,60,80],"title":"% CFSEˡᵒʷ CD4⁺ T responders","titleFontSize":28,"titleX":-66.3,"titleY":1334,"titleBaseline":"middle"}},"y2":{"field":"actA"}}},
{"data":{"name":"D1"},"layer":[
{"mark":{"type":"circle","size":165,"color":"#000","opacity":1},"encoding":{"x":{"datum":1,"type":"quantitative","scale":{"domain":[0.5,2.5],"range":[914,1121.8]},"axis":null},"y":{"field":"PBS","type":"quantitative","scale":{"domain":[0,80],"range":[1492.7,1181.7]},"axis":null}}},
{"mark":{"type":"circle","size":165,"color":"#e42320","opacity":1},"encoding":{"x":{"datum":2,"type":"quantitative","scale":{"domain":[0.5,2.5],"range":[914,1121.8]},"axis":null},"y":{"field":"actA","type":"quantitative","scale":{"domain":[0,80],"range":[1492.7,1181.7]},"axis":null}}},
{"data":{"values":[{"x":1.07,"v":79.9},{"x":1.085,"v":82},{"x":1.13,"v":82.75},{"x":1.81,"v":82.75},{"x":1.855,"v":82},{"x":1.87,"v":79.9}]},"mark":{"type":"line","color":"#000","strokeWidth":3},"encoding":{"order":{"value":null},"x":{"field":"x","type":"quantitative","scale":{"domain":[0.5,2.5],"range":[914,1121.8]},"axis":null},"y":{"field":"v","type":"quantitative","scale":{"domain":[0,80],"range":[1492.7,1181.7]},"axis":null}}},
{"data":{"values":[{"x":1.47,"v":82.2,"s":"**"}]},"mark":{"type":"text","fontSize":46,"fontWeight":"bold","font":"Liberation Sans","baseline":"alphabetic"},"encoding":{"text":{"field":"s"},"x":{"field":"x","type":"quantitative","scale":{"domain":[0.5,2.5],"range":[914,1121.8]},"axis":null},"y":{"field":"v","type":"quantitative","scale":{"domain":[0,80],"range":[1492.7,1181.7]},"axis":null}}}
]},
{"data":{"name":"E1"},"mark":{"type":"rule","color":"#000","strokeWidth":2},"encoding":{"x":{"datum":1,"type":"quantitative","scale":{"domain":[0.5,2.5],"range":[143,350.3]},"axis":{"orient":"bottom","offset":-58.7,"ticks":false,"labels":false,"domainWidth":3.5,"title":"IFN-γ","titleFontSize":33,"titleX":245.5,"titleY":46.7}},"x2":{"datum":2},"y":{"field":"PBS","type":"quantitative","scale":{"domain":[0,1500],"range":[2058.3,1746]},"axis":{"orient":"left","offset":-143,"values":[0,500,1000,1500],"format":",.0f","title":"pg/ml","titleFontSize":36,"titleX":-114.2,"titleY":1903,"titleBaseline":"middle"}},"y2":{"field":"actA"}}},
{"data":{"name":"E1"},"layer":[
{"mark":{"type":"circle","size":165,"color":"#000","opacity":1},"encoding":{"x":{"datum":1,"type":"quantitative","scale":{"domain":[0.5,2.5],"range":[143,350.3]},"axis":null},"y":{"field":"PBS","type":"quantitative","scale":{"domain":[0,1500],"range":[2058.3,1746]},"axis":null}}},
{"mark":{"type":"circle","size":165,"color":"#e42320","opacity":1},"encoding":{"x":{"datum":2,"type":"quantitative","scale":{"domain":[0.5,2.5],"range":[143,350.3]},"axis":null},"y":{"field":"actA","type":"quantitative","scale":{"domain":[0,1500],"range":[2058.3,1746]},"axis":null}}},
{"data":{"values":[{"x":1.11,"v":1346},{"x":1.125,"v":1385},{"x":1.17,"v":1399},{"x":1.85,"v":1399},{"x":1.895,"v":1385},{"x":1.91,"v":1346}]},"mark":{"type":"line","color":"#000","strokeWidth":3},"encoding":{"order":{"value":null},"x":{"field":"x","type":"quantitative","scale":{"domain":[0.5,2.5],"range":[143,350.3]},"axis":null},"y":{"field":"v","type":"quantitative","scale":{"domain":[0,1500],"range":[2058.3,1746]},"axis":null}}},
{"data":{"values":[{"x":1.51,"v":1388,"s":"**"}]},"mark":{"type":"text","fontSize":46,"fontWeight":"bold","font":"Liberation Sans","baseline":"alphabetic"},"encoding":{"text":{"field":"s"},"x":{"field":"x","type":"quantitative","scale":{"domain":[0.5,2.5],"range":[143,350.3]},"axis":null},"y":{"field":"v","type":"quantitative","scale":{"domain":[0,1500],"range":[2058.3,1746]},"axis":null}}}
]},
{"data":{"name":"E2"},"mark":{"type":"rule","color":"#000","strokeWidth":2},"encoding":{"x":{"datum":1,"type":"quantitative","scale":{"domain":[0.5,2.5],"range":[436.3,645.4]},"axis":{"orient":"bottom","offset":-60.3,"ticks":false,"labels":false,"domainWidth":3.5,"title":"IL-2","titleFontSize":33,"titleX":539.7,"titleY":48.3}},"x2":{"datum":2},"y":{"field":"PBS","type":"quantitative","scale":{"domain":[0,1000],"range":[2056.7,1743.3]},"axis":{"orient":"left","offset":-436.3,"values":[0,200,400,600,800,1000],"format":",.0f","title":null}},"y2":{"field":"actA"}}},
{"data":{"name":"E2"},"layer":[
{"mark":{"type":"circle","size":165,"color":"#000","opacity":1},"encoding":{"x":{"datum":1,"type":"quantitative","scale":{"domain":[0.5,2.5],"range":[436.3,645.4]},"axis":null},"y":{"field":"PBS","type":"quantitative","scale":{"domain":[0,1000],"range":[2056.7,1743.3]},"axis":null}}},
{"mark":{"type":"circle","size":165,"color":"#e42320","opacity":1},"encoding":{"x":{"datum":2,"type":"quantitative","scale":{"domain":[0.5,2.5],"range":[436.3,645.4]},"axis":null},"y":{"field":"actA","type":"quantitative","scale":{"domain":[0,1000],"range":[2056.7,1743.3]},"axis":null}}},
{"data":{"values":[{"x":1.09,"v":1030},{"x":1.105,"v":1055},{"x":1.15,"v":1065},{"x":1.83,"v":1065},{"x":1.875,"v":1055},{"x":1.89,"v":1030}]},"mark":{"type":"line","color":"#000","strokeWidth":3},"encoding":{"order":{"value":null},"x":{"field":"x","type":"quantitative","scale":{"domain":[0.5,2.5],"range":[436.3,645.4]},"axis":null},"y":{"field":"v","type":"quantitative","scale":{"domain":[0,1000],"range":[2056.7,1743.3]},"axis":null}}},
{"data":{"values":[{"x":1.49,"v":1058,"s":"**"}]},"mark":{"type":"text","fontSize":46,"fontWeight":"bold","font":"Liberation Sans","baseline":"alphabetic"},"encoding":{"text":{"field":"s"},"x":{"field":"x","type":"quantitative","scale":{"domain":[0.5,2.5],"range":[436.3,645.4]},"axis":null},"y":{"field":"v","type":"quantitative","scale":{"domain":[0,1000],"range":[2056.7,1743.3]},"axis":null}}}
]},
{"data":{"name":"E3"},"mark":{"type":"rule","color":"#000","strokeWidth":2},"encoding":{"x":{"datum":1,"type":"quantitative","scale":{"domain":[0.5,2.5],"range":[733.3,940.5]},"axis":{"orient":"bottom","offset":-59.7,"ticks":false,"labels":false,"domainWidth":3.5,"title":"IL-10","titleFontSize":33,"titleX":836.4,"titleY":47.7}},"x2":{"datum":2},"y":{"field":"PBS","type":"quantitative","scale":{"domain":[0,1000],"range":[2057.3,1745.3]},"axis":{"orient":"left","offset":-733.3,"values":[0,200,400,600,800,1000],"format":",.0f","title":null}},"y2":{"field":"actA"}}},
{"data":{"name":"E3"},"layer":[
{"mark":{"type":"circle","size":165,"color":"#000","opacity":1},"encoding":{"x":{"datum":1,"type":"quantitative","scale":{"domain":[0.5,2.5],"range":[733.3,940.5]},"axis":null},"y":{"field":"PBS","type":"quantitative","scale":{"domain":[0,1000],"range":[2057.3,1745.3]},"axis":null}}},
{"mark":{"type":"circle","size":165,"color":"#e42320","opacity":1},"encoding":{"x":{"datum":2,"type":"quantitative","scale":{"domain":[0.5,2.5],"range":[733.3,940.5]},"axis":null},"y":{"field":"actA","type":"quantitative","scale":{"domain":[0,1000],"range":[2057.3,1745.3]},"axis":null}}},
{"data":{"values":[{"x":1.14,"v":1001},{"x":1.155,"v":1027},{"x":1.2,"v":1036},{"x":1.88,"v":1036},{"x":1.925,"v":1027},{"x":1.94,"v":1001}]},"mark":{"type":"line","color":"#000","strokeWidth":3},"encoding":{"order":{"value":null},"x":{"field":"x","type":"quantitative","scale":{"domain":[0.5,2.5],"range":[733.3,940.5]},"axis":null},"y":{"field":"v","type":"quantitative","scale":{"domain":[0,1000],"range":[2057.3,1745.3]},"axis":null}}},
{"data":{"values":[{"x":1.53,"v":1036,"s":"*"}]},"mark":{"type":"text","fontSize":46,"fontWeight":"bold","font":"Liberation Sans","baseline":"alphabetic"},"encoding":{"text":{"field":"s"},"x":{"field":"x","type":"quantitative","scale":{"domain":[0.5,2.5],"range":[733.3,940.5]},"axis":null},"y":{"field":"v","type":"quantitative","scale":{"domain":[0,1000],"range":[2057.3,1745.3]},"axis":null}}}
]},
{"data":{"name":"F1"},"mark":{"type":"rule","color":"#000","strokeWidth":2},"encoding":{"x":{"datum":1,"type":"quantitative","scale":{"domain":[0.338,2.833],"range":[1385.2,1578.8]},"axis":{"orient":"bottom","offset":-64.3,"ticks":false,"labels":false,"domainWidth":3.5,"title":null}},"x2":{"datum":2},"y":{"field":"PBS","type":"quantitative","scale":{"domain":[0,60],"range":[2052.7,1740.7]},"axis":{"orient":"left","offset":-1385.2,"values":[0,20,40,60],"title":"Cytotoxicity (%)","titleFontSize":26,"titleX":-63.5,"titleY":1886,"titleBaseline":"middle"}},"y2":{"field":"actA"}}},
{"data":{"name":"F1"},"layer":[
{"mark":{"type":"circle","size":165,"color":"#000","opacity":1},"encoding":{"x":{"datum":1,"type":"quantitative","scale":{"domain":[0.338,2.833],"range":[1385.2,1578.8]},"axis":null},"y":{"field":"PBS","type":"quantitative","scale":{"domain":[0,60],"range":[2052.7,1740.7]},"axis":null}}},
{"mark":{"type":"circle","size":165,"color":"#e42320","opacity":1},"encoding":{"x":{"datum":2,"type":"quantitative","scale":{"domain":[0.338,2.833],"range":[1385.2,1578.8]},"axis":null},"y":{"field":"actA","type":"quantitative","scale":{"domain":[0,60],"range":[2052.7,1740.7]},"axis":null}}},
{"data":{"values":[{"x":0.91,"v":62.2},{"x":0.93,"v":63.8},{"x":0.98,"v":64.4},{"x":1.92,"v":64.4},{"x":1.97,"v":63.8},{"x":1.99,"v":62.2}]},"mark":{"type":"line","color":"#000","strokeWidth":3},"encoding":{"order":{"value":null},"x":{"field":"x","type":"quantitative","scale":{"domain":[0.338,2.833],"range":[1385.2,1578.8]},"axis":null},"y":{"field":"v","type":"quantitative","scale":{"domain":[0,60],"range":[2052.7,1740.7]},"axis":null}}},
{"data":{"values":[{"x":1.44,"v":64.1,"s":"*"}]},"mark":{"type":"text","fontSize":46,"fontWeight":"bold","font":"Liberation Sans","baseline":"alphabetic"},"encoding":{"text":{"field":"s"},"x":{"field":"x","type":"quantitative","scale":{"domain":[0.338,2.833],"range":[1385.2,1578.8]},"axis":null},"y":{"field":"v","type":"quantitative","scale":{"domain":[0,60],"range":[2052.7,1740.7]},"axis":null}}}
]},
{"data":{"values":[{"a":1,"b":1}]},"mark":{"type":"point","opacity":0},"encoding":{"x":{"field":"a","type":"quantitative","scale":{"domain":[1,6.05],"range":[119.7,398.5]},"axis":{"orient":"bottom","offset":-1176.3,"domain":false,"labels":false,"tickSize":4,"tickWidth":1.5,"title":null,"values":[1.3,1.48,1.6,1.7,1.78,1.85,1.9,1.95,2.3,2.48,2.6,2.7,2.78,2.85,2.9,2.95,3.3,3.48,3.6,3.7,3.78,3.85,3.9,3.95,4.3,4.48,4.6,4.7,4.78,4.85,4.9,4.95,5.3,5.48,5.6,5.7,5.78,5.85,5.9,5.95]}},"y":{"field":"b","type":"quantitative","scale":{"domain":[1,6.03],"range":[940.7,662]},"axis":{"orient":"left","offset":-119.7,"domain":false,"labels":false,"tickSize":3,"tickWidth":1.5,"title":null,"values":[1.3,1.48,1.6,1.7,1.78,1.85,1.9,1.95,2.3,2.48,2.6,2.7,2.78,2.85,2.9,2.95,3.3,3.48,3.6,3.7,3.78,3.85,3.9,3.95,4.3,4.48,4.6,4.7,4.78,4.85,4.9,4.95,5.3,5.48,5.6,5.7,5.78,5.85,5.9,5.95]}}}},
{"data":{"values":[{"a":1,"b":1}]},"mark":{"type":"point","opacity":0},"encoding":{"x":{"field":"a","type":"quantitative","scale":{"domain":[1,6.05],"range":[450.8,729.4]},"axis":{"orient":"bottom","offset":-1176.3,"domain":false,"labels":false,"tickSize":4,"tickWidth":1.5,"title":null,"values":[1.3,1.48,1.6,1.7,1.78,1.85,1.9,1.95,2.3,2.48,2.6,2.7,2.78,2.85,2.9,2.95,3.3,3.48,3.6,3.7,3.78,3.85,3.9,3.95,4.3,4.48,4.6,4.7,4.78,4.85,4.9,4.95,5.3,5.48,5.6,5.7,5.78,5.85,5.9,5.95]}},"y":{"field":"b","type":"quantitative","scale":{"domain":[1,6.03],"range":[940.7,662]},"axis":{"orient":"left","offset":-450.8,"domain":false,"labels":false,"tickSize":3,"tickWidth":1.5,"title":null,"values":[1.3,1.48,1.6,1.7,1.78,1.85,1.9,1.95,2.3,2.48,2.6,2.7,2.78,2.85,2.9,2.95,3.3,3.48,3.6,3.7,3.78,3.85,3.9,3.95,4.3,4.48,4.6,4.7,4.78,4.85,4.9,4.95,5.3,5.48,5.6,5.7,5.78,5.85,5.9,5.95]}}}},
{"data":{"values":[{"c":1,"x":3.11,"y":4.6},{"c":1,"x":3.42,"y":4.43},{"c":1,"x":3.47,"y":4.07},{"c":1,"x":3.3,"y":3.71},{"c":1,"x":3.04,"y":3.59},{"c":1,"x":2.73,"y":3.77},{"c":1,"x":2.66,"y":4.13},{"c":1,"x":2.77,"y":4.43},{"c":2,"x":3.1,"y":4.51},{"c":2,"x":3.34,"y":4.37},{"c":2,"x":3.38,"y":4.08},{"c":2,"x":3.25,"y":3.79},{"c":2,"x":3.04,"y":3.7},{"c":2,"x":2.79,"y":3.84},{"c":2,"x":2.74,"y":4.13},{"c":2,"x":2.82,"y":4.37},{"c":3,"x":3.08,"y":4.41},{"c":3,"x":3.27,"y":4.31},{"c":3,"x":3.3,"y":4.09},{"c":3,"x":3.2,"y":3.88},{"c":3,"x":3.04,"y":3.81},{"c":3,"x":2.85,"y":3.91},{"c":3,"x":2.81,"y":4.13},{"c":3,"x":2.88,"y":4.31},{"c":4,"x":3.07,"y":4.32},{"c":4,"x":3.19,"y":4.25},{"c":4,"x":3.21,"y":4.11},{"c":4,"x":3.14,"y":3.96},{"c":4,"x":3.04,"y":3.91},{"c":4,"x":2.92,"y":3.99},{"c":4,"x":2.89,"y":4.13},{"c":4,"x":2.93,"y":4.25},{"c":5,"x":3.05,"y":4.22},{"c":5,"x":3.12,"y":4.19},{"c":5,"x":3.13,"y":4.12},{"c":5,"x":3.09,"y":4.05},{"c":5,"x":3.04,"y":4.02},{"c":5,"x":2.98,"y":4.06},{"c":5,"x":2.96,"y":4.13},{"c":5,"x":2.99,"y":4.19}]},"mark":{"type":"line","interpolate":"cardinal-closed","color":"#757575","strokeWidth":3.2},"encoding":{"order":{"value":null},"detail":{"field":"c"},"x":{"field":"x","type":"quantitative","scale":{"domain":[1,6.05],"range":[119.7,398.5]},"axis":{"orient":"bottom","offset":-1176.3,"domain":false,"values":[1,2,3,4,5,6],"labelExpr":"'10'+['','¹','²','³','⁴','⁵','⁶'][datum.value]","labelFontSize":17,"labelPadding":14,"tickSize":8,"tickWidth":2.5,"title":"Foxp3-FITC","titleFontSize":36,"titleX":155.5,"titleY":102.3}},"y":{"field":"y","type":"quantitative","scale":{"domain":[1,6.03],"range":[940.7,662]},"axis":{"orient":"left","offset":-119.7,"domain":false,"values":[1,2,3,4,5,6],"labelExpr":"'10'+['','¹','²','³','⁴','⁵','⁶'][datum.value]","labelFontSize":17,"labelPadding":5,"tickSize":6,"tickWidth":2.5,"title":"CD4-PE/Cy5","titleFontSize":35,"titleX":-98.7,"titleY":862.5,"titleBaseline":"middle"}}}},
{"layer":[
{"data":{"values":[{"c":1,"x":3.56,"y":4.49},{"c":1,"x":3.74,"y":4.7},{"c":1,"x":4.26,"y":4.64},{"c":1,"x":4.44,"y":4.43},{"c":1,"x":4.45,"y":4.19},{"c":1,"x":4.12,"y":3.8},{"c":1,"x":3.69,"y":3.62},{"c":1,"x":3.47,"y":3.9},{"c":2,"x":4.0,"y":4.49},{"c":2,"x":4.26,"y":4.49},{"c":2,"x":4.37,"y":4.19},{"c":2,"x":4.09,"y":3.83},{"c":2,"x":3.69,"y":3.7},{"c":2,"x":3.52,"y":3.95},{"c":2,"x":3.65,"y":4.31},{"c":3,"x":3.99,"y":4.4},{"c":3,"x":4.19,"y":4.4},{"c":3,"x":4.27,"y":4.17},{"c":3,"x":4.06,"y":3.9},{"c":3,"x":3.76,"y":3.81},{"c":3,"x":3.63,"y":3.99},{"c":3,"x":3.73,"y":4.26},{"c":4,"x":3.98,"y":4.3},{"c":4,"x":4.11,"y":4.3},{"c":4,"x":4.17,"y":4.16},{"c":4,"x":4.03,"y":3.98},{"c":4,"x":3.83,"y":3.91},{"c":4,"x":3.74,"y":4.04},{"c":4,"x":3.8,"y":4.22},{"c":5,"x":3.97,"y":4.23},{"c":5,"x":4.05,"y":4.23},{"c":5,"x":4.08,"y":4.14},{"c":5,"x":4.0,"y":4.03},{"c":5,"x":3.88,"y":3.99},{"c":5,"x":3.83,"y":4.07},{"c":5,"x":3.87,"y":4.18}]},"mark":{"type":"line","interpolate":"cardinal-closed","color":"#8a8a8a","strokeWidth":1.5},"encoding":{"order":{"value":null},"detail":{"field":"c"},"x":{"field":"x","type":"quantitative","scale":{"domain":[1,6.05],"range":[119.7,398.5]},"axis":null},"y":{"field":"y","type":"quantitative","scale":{"domain":[1,6.03],"range":[940.7,662]},"axis":null}}},
{"data":{"values":[{"x":3.8,"y":4.68},{"x":3.85,"y":4.7},{"x":3.9,"y":4.68},{"x":3.95,"y":4.7},{"x":4.0,"y":4.66},{"x":4.05,"y":4.7},{"x":4.1,"y":4.65},{"x":4.15,"y":4.68},{"x":4.2,"y":4.62},{"x":4.28,"y":4.7},{"x":4.33,"y":4.6},{"x":4.38,"y":4.55},{"x":4.4,"y":4.48},{"x":4.45,"y":4.62},{"x":4.5,"y":4.55},{"x":4.3,"y":4.5},{"x":4.36,"y":4.42},{"x":4.96,"y":4.27},{"x":5.18,"y":4.5},{"x":5.25,"y":4.48},{"x":4.44,"y":3.84},{"x":4.52,"y":3.84},{"x":4.2,"y":3.75},{"x":4.05,"y":3.9},{"x":2.55,"y":4.3},{"x":2.6,"y":4.1},{"x":2.45,"y":4.05},{"x":2.6,"y":3.85},{"x":2.65,"y":3.75},{"x":2.55,"y":3.9},{"x":3.4,"y":4.6}]},"mark":{"type":"circle","size":4,"color":"#111","opacity":1},"encoding":{"x":{"field":"x","type":"quantitative","scale":{"domain":[1,6.05],"range":[119.7,398.5]},"axis":null},"y":{"field":"y","type":"quantitative","scale":{"domain":[1,6.03],"range":[940.7,662]},"axis":null}}},
{"data":{"values":[{"x0":1,"x1":6.05,"y0":1,"y1":6.03}]},"mark":{"type":"rect","fillOpacity":0,"stroke":"#999","strokeWidth":1.5},"encoding":{"x":{"field":"x0","type":"quantitative","scale":{"domain":[1,6.05],"range":[119.7,398.5]},"axis":null},"x2":{"field":"x1"},"y":{"field":"y0","type":"quantitative","scale":{"domain":[1,6.03],"range":[940.7,662]},"axis":null},"y2":{"field":"y1"}}},
{"data":{"values":[{"x0":3.5,"x1":5.42,"y0":3.68,"y1":4.825}]},"mark":{"type":"rect","fillOpacity":0,"stroke":"#333","strokeWidth":1.8},"encoding":{"x":{"field":"x0","type":"quantitative","scale":{"domain":[1,6.05],"range":[119.7,398.5]},"axis":null},"x2":{"field":"x1"},"y":{"field":"y0","type":"quantitative","scale":{"domain":[1,6.03],"range":[940.7,662]},"axis":null},"y2":{"field":"y1"}}},
{"data":{"values":[{"x":4.48,"y":5.26,"t":"29.3"}]},"mark":{"type":"text","fontSize":18,"font":"Liberation Sans","color":"#222"},"encoding":{"text":{"field":"t"},"x":{"field":"x","type":"quantitative","scale":{"domain":[1,6.05],"range":[119.7,398.5]},"axis":null},"y":{"field":"y","type":"quantitative","scale":{"domain":[1,6.03],"range":[940.7,662]},"axis":null}}}
]},
{"data":{"values":[{"c":1,"x":3.25,"y":4.49},{"c":1,"x":3.47,"y":4.27},{"c":1,"x":3.49,"y":3.92},{"c":1,"x":3.27,"y":3.64},{"c":1,"x":3.02,"y":3.59},{"c":1,"x":2.72,"y":3.72},{"c":1,"x":2.63,"y":4.02},{"c":1,"x":2.85,"y":4.35},{"c":2,"x":3.21,"y":4.4},{"c":2,"x":3.39,"y":4.22},{"c":2,"x":3.4,"y":3.94},{"c":2,"x":3.23,"y":3.72},{"c":2,"x":3.03,"y":3.68},{"c":2,"x":2.79,"y":3.78},{"c":2,"x":2.71,"y":4.02},{"c":2,"x":2.89,"y":4.28},{"c":3,"x":3.17,"y":4.3},{"c":3,"x":3.3,"y":4.17},{"c":3,"x":3.31,"y":3.96},{"c":3,"x":3.18,"y":3.79},{"c":3,"x":3.03,"y":3.76},{"c":3,"x":2.85,"y":3.84},{"c":3,"x":2.8,"y":4.02},{"c":3,"x":2.93,"y":4.22},{"c":4,"x":3.13,"y":4.21},{"c":4,"x":3.22,"y":4.12},{"c":4,"x":3.23,"y":3.98},{"c":4,"x":3.14,"y":3.87},{"c":4,"x":3.04,"y":3.85},{"c":4,"x":2.92,"y":3.9},{"c":4,"x":2.88,"y":4.02},{"c":4,"x":2.97,"y":4.15},{"c":5,"x":3.09,"y":4.11},{"c":5,"x":3.13,"y":4.07},{"c":5,"x":3.14,"y":4.0},{"c":5,"x":3.09,"y":3.94},{"c":5,"x":3.04,"y":3.93},{"c":5,"x":2.98,"y":3.96},{"c":5,"x":2.97,"y":4.02},{"c":5,"x":3.01,"y":4.09}]},"mark":{"type":"line","interpolate":"cardinal-closed","color":"#8a8a8a","strokeWidth":2.8},"encoding":{"order":{"value":null},"detail":{"field":"c"},"x":{"field":"x","type":"quantitative","scale":{"domain":[1,6.05],"range":[450.8,729.4]},"axis":{"orient":"bottom","offset":-1176.3,"domain":false,"values":[1,2,3,4,5,6],"labelExpr":"'10'+['','¹','²','³','⁴','⁵','⁶'][datum.value]","labelFontSize":17,"labelPadding":14,"tickSize":8,"tickWidth":2.5,"title":null}},"y":{"field":"y","type":"quantitative","scale":{"domain":[1,6.03],"range":[940.7,662]},"axis":{"orient":"left","offset":-450.8,"domain":false,"values":[1,2,3,4,5,6],"labelExpr":"'10'+['','¹','²','³','⁴','⁵','⁶'][datum.value]","labelFontSize":17,"labelPadding":5,"tickSize":6,"tickWidth":2.5,"title":null}}}},
{"layer":[
{"data":{"values":[{"c":1,"x":3.54,"y":3.74},{"c":1,"x":3.58,"y":4.13},{"c":1,"x":3.8,"y":4.37},{"c":1,"x":4.24,"y":4.46},{"c":1,"x":4.34,"y":4.19},{"c":1,"x":4.15,"y":3.95},{"c":1,"x":3.71,"y":3.82},{"c":2,"x":3.69,"y":3.86},{"c":2,"x":3.71,"y":4.13},{"c":2,"x":3.87,"y":4.3},{"c":2,"x":4.17,"y":4.36},{"c":2,"x":4.24,"y":4.17},{"c":2,"x":4.1,"y":4.0},{"c":2,"x":3.8,"y":3.91},{"c":3,"x":3.78,"y":3.95},{"c":3,"x":3.8,"y":4.13},{"c":3,"x":3.9,"y":4.24},{"c":3,"x":4.1,"y":4.28},{"c":3,"x":4.14,"y":4.16},{"c":3,"x":4.05,"y":4.05},{"c":3,"x":3.86,"y":3.98},{"c":4,"x":3.87,"y":4.03},{"c":4,"x":3.88,"y":4.13},{"c":4,"x":3.93,"y":4.19},{"c":4,"x":4.04,"y":4.21},{"c":4,"x":4.06,"y":4.15},{"c":4,"x":4.02,"y":4.08},{"c":4,"x":3.91,"y":4.05}]},"mark":{"type":"line","interpolate":"cardinal-closed","color":"#999","strokeWidth":1.3},"encoding":{"order":{"value":null},"detail":{"field":"c"},"x":{"field":"x","type":"quantitative","scale":{"domain":[1,6.05],"range":[450.8,729.4]},"axis":null},"y":{"field":"y","type":"quantitative","scale":{"domain":[1,6.03],"range":[940.7,662]},"axis":null}}},
{"data":{"values":[{"x":3.55,"y":4.45},{"x":3.6,"y":4.55},{"x":3.65,"y":4.5},{"x":3.7,"y":4.6},{"x":3.75,"y":4.45},{"x":3.8,"y":4.7},{"x":3.85,"y":4.55},{"x":3.9,"y":4.65},{"x":3.95,"y":4.5},{"x":4.0,"y":4.7},{"x":4.05,"y":4.6},{"x":4.1,"y":4.5},{"x":4.15,"y":4.62},{"x":4.2,"y":4.55},{"x":4.25,"y":4.45},{"x":4.3,"y":4.6},{"x":4.4,"y":4.5},{"x":4.52,"y":4.7},{"x":4.6,"y":4.65},{"x":4.7,"y":4.68},{"x":5.0,"y":4.35},{"x":5.15,"y":4.42},{"x":5.25,"y":4.55},{"x":5.35,"y":4.6},{"x":4.45,"y":3.95},{"x":4.48,"y":3.85},{"x":4.35,"y":3.8},{"x":4.42,"y":3.72},{"x":3.7,"y":3.72},{"x":3.85,"y":3.72},{"x":4.15,"y":3.78},{"x":3.2,"y":4.55},{"x":3.3,"y":4.5},{"x":2.62,"y":3.95},{"x":2.6,"y":3.85},{"x":2.68,"y":3.8}]},"mark":{"type":"circle","size":4,"color":"#111","opacity":1},"encoding":{"x":{"field":"x","type":"quantitative","scale":{"domain":[1,6.05],"range":[450.8,729.4]},"axis":null},"y":{"field":"y","type":"quantitative","scale":{"domain":[1,6.03],"range":[940.7,662]},"axis":null}}},
{"data":{"values":[{"x0":1,"x1":6.05,"y0":1,"y1":6.03}]},"mark":{"type":"rect","fillOpacity":0,"stroke":"#999","strokeWidth":1.5},"encoding":{"x":{"field":"x0","type":"quantitative","scale":{"domain":[1,6.05],"range":[450.8,729.4]},"axis":null},"x2":{"field":"x1"},"y":{"field":"y0","type":"quantitative","scale":{"domain":[1,6.03],"range":[940.7,662]},"axis":null},"y2":{"field":"y1"}}},
{"data":{"values":[{"x0":3.5,"x1":5.42,"y0":3.68,"y1":4.825}]},"mark":{"type":"rect","fillOpacity":0,"stroke":"#333","strokeWidth":1.8},"encoding":{"x":{"field":"x0","type":"quantitative","scale":{"domain":[1,6.05],"range":[450.8,729.4]},"axis":null},"x2":{"field":"x1"},"y":{"field":"y0","type":"quantitative","scale":{"domain":[1,6.03],"range":[940.7,662]},"axis":null},"y2":{"field":"y1"}}},
{"data":{"values":[{"x":4.48,"y":5.26,"t":"19.1"}]},"mark":{"type":"text","fontSize":18,"font":"Liberation Sans","color":"#222"},"encoding":{"text":{"field":"t"},"x":{"field":"x","type":"quantitative","scale":{"domain":[1,6.05],"range":[450.8,729.4]},"axis":null},"y":{"field":"y","type":"quantitative","scale":{"domain":[1,6.03],"range":[940.7,662]},"axis":null}}}
]},
{"data":{"name":"hatch"},"mark":{"type":"rule","color":"#d4d4d4","strokeWidth":1.5},"encoding":{"x":{"field":"f","type":"quantitative","scale":{"domain":[95,804],"range":[47.8,404.9]},"axis":{"orient":"bottom","offset":-657.7,"domain":false,"values":[108,115,122,130,136,148,151,154,157,160,163,166,178,190,198,210,240,265,290,300,310,318,327,375,400,415,425,432,440,485,510,525,535,542,548,590,615,630,640,648,655],"labelExpr":"datum.value==157?'0':datum.value==327?'10³':datum.value==440?'10⁴':datum.value==548?'10⁵':datum.value==655?'10⁶':''","labelFontSize":17,"labelPadding":14,"tickSize":6,"tickWidth":1.5,"title":"CellTrace-CFSE","titleFontSize":36,"titleX":180,"titleY":105.7}},"x2":{"field":"b"},"y":{"datum":122,"type":"quantitative","scale":{"domain":[0,1032],"range":[1500,1156]},"axis":{"orient":"left","offset":-47.8,"domain":false,"ticks":false,"labels":false,"title":"% of max","titleFontSize":35,"titleX":-28.6,"titleY":1327.5,"titleBaseline":"middle"}},"y2":{"datum":255}}},
{"layer":[
{"data":{"name":"shade"},"mark":{"type":"area","color":"#777","opacity":0.35},"encoding":{"order":{"value":null},"x":{"field":"x","type":"quantitative","scale":{"domain":[95,804],"range":[47.8,404.9]},"axis":null},"y":{"field":"y","type":"quantitative","scale":{"domain":[0,1032],"range":[1500,1156]},"axis":null},"y2":{"field":"y0"}}},
{"data":{"name":"diag"},"mark":{"type":"rule","color":"#777","strokeWidth":1.6},"encoding":{"x":{"field":"f","type":"quantitative","scale":{"domain":[95,804],"range":[47.8,404.9]},"axis":null},"x2":{"field":"b"},"y":{"datum":122,"type":"quantitative","scale":{"domain":[0,1032],"range":[1500,1156]},"axis":null},"y2":{"datum":255}}},
{"data":{"name":"levels"},"mark":{"type":"rule","color":"#777","strokeWidth":1.6},"encoding":{"x":{"field":"l","type":"quantitative","scale":{"domain":[95,804],"range":[47.8,404.9]},"axis":null},"x2":{"field":"r"},"y":{"field":"v","type":"quantitative","scale":{"domain":[0,1032],"range":[1500,1156]},"axis":null}}},
{"data":{"values":[{"x":235,"y":255},{"x":700,"y":255},{"x":720,"y":262},{"x":735,"y":340},{"x":745,"y":600},{"x":755,"y":990},{"x":765,"y":995},{"x":772,"y":1008},{"x":778,"y":900},{"x":785,"y":600},{"x":790,"y":300},{"x":792,"y":255}]},"mark":{"type":"area","interpolate":"monotone","color":"#6f4468","stroke":"#45234a","strokeWidth":1.5,"opacity":1},"encoding":{"x":{"field":"x","type":"quantitative","scale":{"domain":[95,804],"range":[47.8,404.9]},"axis":null},"y":{"field":"y","type":"quantitative","scale":{"domain":[0,1032],"range":[1500,1156]},"axis":null},"y2":{"datum":255}}},
{"data":{"values":[{"x":318,"y":215},{"x":322,"y":250},{"x":328,"y":370},{"x":333,"y":420},{"x":345,"y":430},{"x":350,"y":480},{"x":365,"y":580},{"x":375,"y":600},{"x":385,"y":690},{"x":400,"y":745},{"x":410,"y":750},{"x":420,"y":830},{"x":428,"y":860},{"x":436,"y":855},{"x":445,"y":780},{"x":452,"y":760},{"x":460,"y":785},{"x":468,"y":730},{"x":478,"y":720},{"x":490,"y":680},{"x":500,"y":630},{"x":510,"y":580},{"x":518,"y":510},{"x":528,"y":410},{"x":540,"y":460},{"x":550,"y":440},{"x":560,"y":450},{"x":575,"y":520},{"x":590,"y":600},{"x":600,"y":565},{"x":612,"y":800},{"x":625,"y":640},{"x":635,"y":630},{"x":650,"y":520},{"x":665,"y":420},{"x":680,"y":380},{"x":690,"y":280},{"x":695,"y":215}]},"mark":{"type":"area","interpolate":"monotone","color":"#a9a9a9","opacity":1},"encoding":{"x":{"field":"x","type":"quantitative","scale":{"domain":[95,804],"range":[47.8,404.9]},"axis":null},"y":{"field":"y","type":"quantitative","scale":{"domain":[0,1032],"range":[1500,1156]},"axis":null},"y2":{"datum":215}}},
{"data":{"name":"band"},"mark":{"type":"area","color":"#777","opacity":0.45},"encoding":{"order":{"value":null},"x":{"field":"x","type":"quantitative","scale":{"domain":[95,804],"range":[47.8,404.9]},"axis":null},"y":{"field":"y","type":"quantitative","scale":{"domain":[0,1032],"range":[1500,1156]},"axis":null},"y2":{"field":"y0"}}},
{"data":{"values":[{"x":150,"y":170},{"x":230,"y":175},{"x":290,"y":178},{"x":320,"y":195},{"x":340,"y":250},{"x":360,"y":320},{"x":378,"y":375},{"x":388,"y":375},{"x":400,"y":430},{"x":415,"y":560},{"x":430,"y":650},{"x":443,"y":722},{"x":452,"y":690},{"x":465,"y":630},{"x":475,"y":595},{"x":483,"y":600},{"x":490,"y":535},{"x":498,"y":575},{"x":505,"y":550},{"x":518,"y":655},{"x":528,"y":652},{"x":538,"y":800},{"x":545,"y":935},{"x":552,"y":850},{"x":562,"y":670},{"x":575,"y":450},{"x":590,"y":250},{"x":610,"y":180},{"x":640,"y":170},{"x":695,"y":170},{"x":702,"y":240},{"x":705,"y":170}]},"mark":{"type":"line","interpolate":"monotone","color":"#111","strokeWidth":1.5},"encoding":{"x":{"field":"x","type":"quantitative","scale":{"domain":[95,804],"range":[47.8,404.9]},"axis":null},"y":{"field":"y","type":"quantitative","scale":{"domain":[0,1032],"range":[1500,1156]},"axis":null}}},
{"data":{"values":[{"x":105,"y":122},{"x":160,"y":125},{"x":200,"y":140},{"x":235,"y":152},{"x":260,"y":175},{"x":280,"y":200},{"x":300,"y":255},{"x":320,"y":365},{"x":325,"y":370},{"x":335,"y":430},{"x":355,"y":445},{"x":375,"y":650},{"x":382,"y":655},{"x":400,"y":855},{"x":412,"y":830},{"x":420,"y":740},{"x":430,"y":630},{"x":440,"y":500},{"x":450,"y":440},{"x":460,"y":488},{"x":470,"y":475},{"x":485,"y":560},{"x":497,"y":638},{"x":508,"y":635},{"x":515,"y":550},{"x":522,"y":460},{"x":530,"y":250},{"x":540,"y":170},{"x":555,"y":140},{"x":590,"y":125},{"x":650,"y":125},{"x":655,"y":180},{"x":660,"y":180},{"x":662,"y":125}]},"mark":{"type":"line","interpolate":"monotone","color":"#e8251f","strokeWidth":1.5},"encoding":{"x":{"field":"x","type":"quantitative","scale":{"domain":[95,804],"range":[47.8,404.9]},"axis":null},"y":{"field":"y","type":"quantitative","scale":{"domain":[0,1032],"range":[1500,1156]},"axis":null}}},
{"data":{"values":[{"x0":95,"x1":804,"y0":0,"y1":1032}]},"mark":{"type":"rect","fillOpacity":0,"stroke":"#333","strokeWidth":2},"encoding":{"x":{"field":"x0","type":"quantitative","scale":{"domain":[95,804],"range":[47.8,404.9]},"axis":null},"x2":{"field":"x1"},"y":{"field":"y0","type":"quantitative","scale":{"domain":[0,1032],"range":[1500,1156]},"axis":null},"y2":{"field":"y1"}}}
]},
{"data":{"name":"hatch"},"mark":{"type":"rule","color":"#d4d4d4","strokeWidth":1.5},"encoding":{"x":{"field":"f","type":"quantitative","scale":{"domain":[95,805],"range":[415.8,773]},"axis":{"orient":"bottom","offset":-657.7,"domain":false,"values":[108,115,122,130,136,148,151,154,157,160,163,166,178,190,198,210,240,265,290,300,310,318,327,375,400,415,425,432,440,485,510,525,535,542,548,590,615,630,640,648,655],"labelExpr":"datum.value==157?'0':datum.value==327?'10³':datum.value==440?'10⁴':datum.value==548?'10⁵':datum.value==655?'10⁶':''","labelFontSize":17,"labelPadding":14,"tickSize":6,"tickWidth":1.5,"title":null}},"x2":{"field":"b"},"y":{"datum":122,"type":"quantitative","scale":{"domain":[0,1032],"range":[1500,1156]},"axis":null},"y2":{"datum":255}}},
{"layer":[
{"data":{"name":"shade"},"mark":{"type":"area","color":"#777","opacity":0.35},"encoding":{"order":{"value":null},"x":{"field":"x","type":"quantitative","scale":{"domain":[95,805],"range":[415.8,773]},"axis":null},"y":{"field":"y","type":"quantitative","scale":{"domain":[0,1032],"range":[1500,1156]},"axis":null},"y2":{"field":"y0"}}},
{"data":{"name":"diag"},"mark":{"type":"rule","color":"#777","strokeWidth":1.6},"encoding":{"x":{"field":"f","type":"quantitative","scale":{"domain":[95,805],"range":[415.8,773]},"axis":null},"x2":{"field":"b"},"y":{"datum":122,"type":"quantitative","scale":{"domain":[0,1032],"range":[1500,1156]},"axis":null},"y2":{"datum":255}}},
{"data":{"name":"levels"},"mark":{"type":"rule","color":"#777","strokeWidth":1.6},"encoding":{"x":{"field":"l","type":"quantitative","scale":{"domain":[95,805],"range":[415.8,773]},"axis":null},"x2":{"field":"r"},"y":{"field":"v","type":"quantitative","scale":{"domain":[0,1032],"range":[1500,1156]},"axis":null}}}
]},
{"layer":[
{"data":{"values":[{"x":968,"y":255},{"x":1440,"y":255},{"x":1460,"y":280},{"x":1475,"y":420},{"x":1485,"y":800},{"x":1492,"y":1000},{"x":1503,"y":1005},{"x":1508,"y":750},{"x":1515,"y":350},{"x":1522,"y":255}]},"mark":{"type":"area","interpolate":"monotone","color":"#6f4468","stroke":"#45234a","strokeWidth":1.5,"opacity":1},"encoding":{"x":{"field":"x","type":"quantitative","scale":{"domain":[825,1535],"range":[415.8,773]},"axis":null},"y":{"field":"y","type":"quantitative","scale":{"domain":[0,1032],"range":[1500,1156]},"axis":null},"y2":{"datum":255}}},
{"data":{"values":[{"x":965,"y":215},{"x":985,"y":330},{"x":1000,"y":390},{"x":1010,"y":400},{"x":1020,"y":375},{"x":1035,"y":460},{"x":1060,"y":480},{"x":1075,"y":560},{"x":1085,"y":680},{"x":1095,"y":800},{"x":1105,"y":910},{"x":1112,"y":928},{"x":1122,"y":870},{"x":1130,"y":850},{"x":1136,"y":865},{"x":1145,"y":780},{"x":1160,"y":690},{"x":1175,"y":580},{"x":1190,"y":520},{"x":1205,"y":530},{"x":1215,"y":455},{"x":1225,"y":485},{"x":1238,"y":420},{"x":1250,"y":550},{"x":1262,"y":610},{"x":1275,"y":645},{"x":1285,"y":580},{"x":1295,"y":450},{"x":1310,"y":330},{"x":1330,"y":270},{"x":1350,"y":240},{"x":1390,"y":230},{"x":1430,"y":215}]},"mark":{"type":"area","interpolate":"monotone","color":"#a9a9a9","opacity":1},"encoding":{"x":{"field":"x","type":"quantitative","scale":{"domain":[825,1535],"range":[415.8,773]},"axis":null},"y":{"field":"y","type":"quantitative","scale":{"domain":[0,1032],"range":[1500,1156]},"axis":null},"y2":{"datum":215}}},
{"data":{"values":[{"x":925,"y":215,"y0":215},{"x":968,"y":255,"y0":215},{"x":1480,"y":255,"y0":215},{"x":1522,"y":255,"y0":255}]},"mark":{"type":"area","color":"#777","opacity":0.45},"encoding":{"order":{"value":null},"x":{"field":"x","type":"quantitative","scale":{"domain":[825,1535],"range":[415.8,773]},"axis":null},"y":{"field":"y","type":"quantitative","scale":{"domain":[0,1032],"range":[1500,1156]},"axis":null},"y2":{"field":"y0"}}},
{"data":{"values":[{"x":880,"y":170},{"x":1025,"y":170},{"x":1030,"y":350},{"x":1035,"y":580},{"x":1042,"y":670},{"x":1050,"y":665},{"x":1058,"y":760},{"x":1068,"y":715},{"x":1082,"y":810},{"x":1090,"y":770},{"x":1097,"y":830},{"x":1105,"y":740},{"x":1115,"y":790},{"x":1125,"y":750},{"x":1140,"y":620},{"x":1150,"y":680},{"x":1160,"y":620},{"x":1167,"y":635},{"x":1175,"y":600},{"x":1182,"y":620},{"x":1197,"y":550},{"x":1205,"y":560},{"x":1215,"y":648},{"x":1225,"y":560},{"x":1235,"y":495},{"x":1250,"y":590},{"x":1258,"y":500},{"x":1265,"y":340},{"x":1285,"y":240},{"x":1310,"y":185},{"x":1340,"y":180},{"x":1360,"y":172},{"x":1440,"y":170}]},"mark":{"type":"line","interpolate":"monotone","color":"#111","strokeWidth":1.5},"encoding":{"x":{"field":"x","type":"quantitative","scale":{"domain":[825,1535],"range":[415.8,773]},"axis":null},"y":{"field":"y","type":"quantitative","scale":{"domain":[0,1032],"range":[1500,1156]},"axis":null}}},
{"data":{"values":[{"x":840,"y":122},{"x":975,"y":125},{"x":980,"y":300},{"x":988,"y":605},{"x":995,"y":550},{"x":1005,"y":655},{"x":1015,"y":670},{"x":1025,"y":800},{"x":1030,"y":755},{"x":1040,"y":840},{"x":1047,"y":870},{"x":1055,"y":770},{"x":1065,"y":740},{"x":1075,"y":770},{"x":1085,"y":690},{"x":1095,"y":540},{"x":1103,"y":575},{"x":1113,"y":580},{"x":1120,"y":500},{"x":1132,"y":445},{"x":1142,"y":445},{"x":1153,"y":375},{"x":1165,"y":425},{"x":1180,"y":342},{"x":1195,"y":370},{"x":1212,"y":392},{"x":1220,"y":280},{"x":1235,"y":190},{"x":1260,"y":145},{"x":1300,"y":132},{"x":1390,"y":122}]},"mark":{"type":"line","interpolate":"monotone","color":"#e8251f","strokeWidth":1.5},"encoding":{"x":{"field":"x","type":"quantitative","scale":{"domain":[825,1535],"range":[415.8,773]},"axis":null},"y":{"field":"y","type":"quantitative","scale":{"domain":[0,1032],"range":[1500,1156]},"axis":null}}},
{"data":{"values":[{"x0":825,"x1":1535,"y0":0,"y1":1032}]},"mark":{"type":"rect","fillOpacity":0,"stroke":"#333","strokeWidth":2},"encoding":{"x":{"field":"x0","type":"quantitative","scale":{"domain":[825,1535],"range":[415.8,773]},"axis":null},"x2":{"field":"x1"},"y":{"field":"y0","type":"quantitative","scale":{"domain":[0,1032],"range":[1500,1156]},"axis":null},"y2":{"field":"y1"}}}
]},
{"resolve":{"scale":{"color":"independent"}},"layer":[
{"data":{"values":[{"x":3,"y":50,"t":"A"},{"x":1301.6,"y":48,"t":"B"},{"x":6,"y":595,"t":"C"},{"x":3,"y":1131,"t":"D"},{"x":8,"y":1685,"t":"E"},{"x":1280,"y":1687,"t":"F"}]},"mark":{"type":"text","fontSize":52,"fontWeight":"bold","align":"left","baseline":"alphabetic","font":"Liberation Sans"},"encoding":{"text":{"field":"t"},"x":{"field":"x","type":"quantitative","scale":{"domain":[0,1946],"range":[0,1946]},"axis":null},"y":{"field":"y","type":"quantitative","scale":{"domain":[0,2117],"range":[0,2117]},"axis":null}}},
{"data":{"values":[{"x":402.5,"y":589,"t":"gated on CD3⁺CD4⁺ T cells"},{"x":1673,"y":39,"t":"gated on CD3⁺CD4⁺ T cells"}]},"mark":{"type":"text","fontSize":29,"align":"center","baseline":"alphabetic","font":"Liberation Sans"},"encoding":{"text":{"field":"t"},"x":{"field":"x","type":"quantitative","scale":{"domain":[0,1946],"range":[0,1946]},"axis":null},"y":{"field":"y","type":"quantitative","scale":{"domain":[0,2117],"range":[0,2117]},"axis":null}}},
{"data":{"values":[{"x":238.5,"y":643,"t":"PBS"},{"x":570.4,"y":643,"t":"act-A"},{"x":227.7,"y":1137,"t":"Pt 01"},{"x":597,"y":1137,"t":"Pt 02"}]},"mark":{"type":"text","fontSize":33,"align":"center","baseline":"alphabetic","font":"Liberation Sans"},"encoding":{"text":{"field":"t"},"x":{"field":"x","type":"quantitative","scale":{"domain":[0,1946],"range":[0,1946]},"axis":null},"y":{"field":"y","type":"quantitative","scale":{"domain":[0,2117],"range":[0,2117]},"axis":null}}},
{"data":{"values":[{"x":1130,"y":653,"t":"PBS"},{"x":1129,"y":712,"t":"act-A"},{"x":1257,"y":1163,"t":"PB CD4⁺ T responders"},{"x":1257,"y":1235,"t":"PBS-CD4⁺ T cells +"},{"x":1257,"y":1280,"t":"PB CD4⁺ T responders"},{"x":1257,"y":1329,"t":"act-A-CD4⁺ T cells +"},{"x":1257,"y":1373,"t":"PB CD4⁺ T responders"},{"x":1000.7,"y":1752,"t":"PBS-CD4⁺"},{"x":1000.7,"y":1796,"t":"T cells"},{"x":1000.7,"y":1851,"t":"act-A-CD4⁺"},{"x":1000.7,"y":1895,"t":"T cells"},{"x":1614,"y":1740,"t":"CD45⁻ cancer cells"},{"x":1614,"y":1784,"t":"+ PB CD8⁺ T cells"},{"x":1614,"y":1826,"t":"pre-treated with:"},{"x":1656,"y":1877,"t":"CM from PBS-"},{"x":1656,"y":1921,"t":"CD4⁺ T cells"},{"x":1656,"y":1982,"t":"CM from act-A-"},{"x":1656,"y":2025,"t":"CD4⁺ T cells"}]},"mark":{"type":"text","fontSize":36,"align":"left","baseline":"alphabetic","font":"Liberation Sans"},"encoding":{"text":{"field":"t"},"x":{"field":"x","type":"quantitative","scale":{"domain":[0,1946],"range":[0,1946]},"axis":null},"y":{"field":"y","type":"quantitative","scale":{"domain":[0,2117],"range":[0,2117]},"axis":null}}},
{"data":{"values":[{"x":1095,"y":639,"g":"black"},{"x":1095,"y":698,"g":"red"},{"x":973,"y":1762,"g":"black"},{"x":973,"y":1861,"g":"red"},{"x":1623,"y":1864,"g":"black"},{"x":1623,"y":1970,"g":"red"}]},"mark":{"type":"circle","size":570,"opacity":1},"encoding":{"color":{"field":"g","type":"nominal","scale":{"domain":["black","red"],"range":["#000","#e42320"]},"legend":null},"x":{"field":"x","type":"quantitative","scale":{"domain":[0,1946],"range":[0,1946]},"axis":null},"y":{"field":"y","type":"quantitative","scale":{"domain":[0,2117],"range":[0,2117]},"axis":null}}},
{"data":{"values":[{"x":1195,"x2":1231,"y":1153,"g":"a"},{"x":1195,"x2":1231,"y":1246,"g":"b"},{"x":1195,"x2":1231,"y":1338,"g":"c"}]},"mark":{"type":"rule","strokeWidth":7},"encoding":{"color":{"field":"g","type":"nominal","scale":{"domain":["a","b","c"],"range":["#aaaaaa","#000000","#e30f23"]},"legend":null},"x":{"field":"x","type":"quantitative","scale":{"domain":[0,1946],"range":[0,1946]},"axis":null},"x2":{"field":"x2"},"y":{"field":"y","type":"quantitative","scale":{"domain":[0,2117],"range":[0,2117]},"axis":null}}},
{"data":{"values":[{"x":52.3,"y":404,"x2":52.3,"y2":175},{"x":51.7,"y":2012,"x2":51.7,"y2":1785},{"x":54.7,"y":954,"x2":54.7,"y2":838},{"x":62.6,"y":1000,"x2":198.7,"y2":1000},{"x":52.6,"y":1522,"x2":188.6,"y2":1522}]},"mark":{"type":"rule","color":"#000","strokeWidth":2.5},"encoding":{"x":{"field":"x","type":"quantitative","scale":{"domain":[0,1946],"range":[0,1946]},"axis":null},"x2":{"field":"x2"},"y":{"field":"y","type":"quantitative","scale":{"domain":[0,2117],"range":[0,2117]},"axis":null},"y2":{"field":"y2"}}},
{"data":{"values":[{"x":52.3,"y":174},{"x":51.7,"y":1783},{"x":54.7,"y":836}]},"mark":{"type":"point","shape":"triangle-up","size":230,"filled":true,"color":"#000","opacity":1},"encoding":{"x":{"field":"x","type":"quantitative","scale":{"domain":[0,1946],"range":[0,1946]},"axis":null},"y":{"field":"y","type":"quantitative","scale":{"domain":[0,2117],"range":[0,2117]},"axis":null}}},
{"data":{"values":[{"x":200.7,"y":1000},{"x":190.5,"y":1522}]},"mark":{"type":"point","shape":"triangle-right","size":230,"filled":true,"color":"#000","opacity":1},"encoding":{"x":{"field":"x","type":"quantitative","scale":{"domain":[0,1946],"range":[0,1946]},"axis":null},"y":{"field":"y","type":"quantitative","scale":{"domain":[0,2117],"range":[0,2117]},"axis":null}}}
]}
]}
